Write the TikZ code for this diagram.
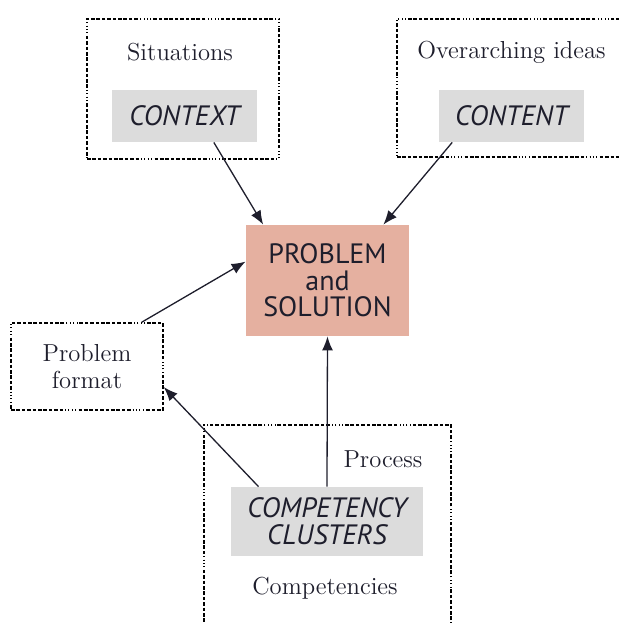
\documentclass[tikz,border=0pt]{standalone}
\usepackage{fontspec}
\newfontfamily\capsfont{PT Sans}
\usetikzlibrary{arrows.meta}
\definecolor{graybox}{HTML}{DCDCDC}
\definecolor{salmon}{HTML}{E5B0A0}
\definecolor{inkc}{HTML}{1E1E2C}
\tikzset{
  dotbox/.style={draw, line width=0.75pt, inner sep=0pt,
    dash pattern=on 1.8pt off 0.9pt on 1.8pt off 0.9pt on 1.8pt off 0.9pt on 1.8pt off 0.9pt on 1.8pt off 0.9pt on 1.8pt off 0.9pt on 1.8pt off 0.9pt on 1.8pt off 0.9pt on 1.8pt off 0.9pt on 1.8pt off 0.9pt on 0.5pt off 1.2pt on 0.5pt off 1.2pt on 0.5pt off 1.2pt on 0.5pt off 1.2pt},
  graycap/.style={fill=graybox, inner sep=0pt, align=center, text=inkc,
    font=\capsfont\itshape\fontsize{14}{13.6}\selectfont},
  mainbox/.style={fill=salmon, inner sep=0pt, align=center, text=inkc,
    font=\capsfont\fontsize{14}{13.2}\selectfont},
  lbl/.style={inner sep=0pt, align=center, text=inkc, font=\fontsize{12.3}{13.5}\selectfont},
  arr/.style={line width=0.65pt, draw=inkc, -{Latex[length=7pt,width=5.5pt]}},
}
\begin{document}
\begin{tikzpicture}[x=0.5pt,y=-0.5pt]
\useasboundingbox (0,0) rectangle (619,623);
\clip (0,0) rectangle (619,623);
% boxes
\node[dotbox, minimum width=96pt, minimum height=70pt] (sitbox) at (183,89) {};
\node[lbl] (sitlbl) at (180,52) {Situations};
\node[graycap, minimum width=72.5pt, minimum height=26pt] (context) at (184.5,116) {CONTEXT};

\node[dotbox, minimum width=116.5pt, minimum height=69pt] (ovbox) at (513.5,88) {};
\node[lbl] (ovlbl) at (511.5,52) {Overarching ideas};
\node[graycap, minimum width=72.5pt, minimum height=26pt] (content) at (511.5,116) {CONTENT};

\node[mainbox, minimum width=81.5pt, minimum height=55.5pt] (problem) at (327.5,280.5) {PROBLEM\\and\\SOLUTION};

\node[dotbox, minimum width=76pt, minimum height=43.5pt] (format) at (87,366.5) {};
\node[lbl] (formatlbl) at (87,366.5) {Problem\\format};

\node[dotbox, minimum width=123.5pt, minimum height=120pt] (procbox) at (327.5,545) {};
\node[lbl] (proclbl) at (383,459) {Process};
\node[graycap, minimum width=96pt, minimum height=34.5pt] (compet) at (327,521.5) {COMPETENCY\\CLUSTERS};
\node[lbl] (competlbl) at (325,588) {Competencies};

% connectors
\draw[arr] (context.-42) -- (problem.139.3);
\draw[arr] (content.204.7) -- (problem.45.5);
\draw[arr] (format.39.4) -- (problem.167.9);
\draw[arr] (compet.153.4) -- (format.-15.1);
\draw[arr] (compet.north) -- (problem.south);
\end{tikzpicture}
\end{document}
